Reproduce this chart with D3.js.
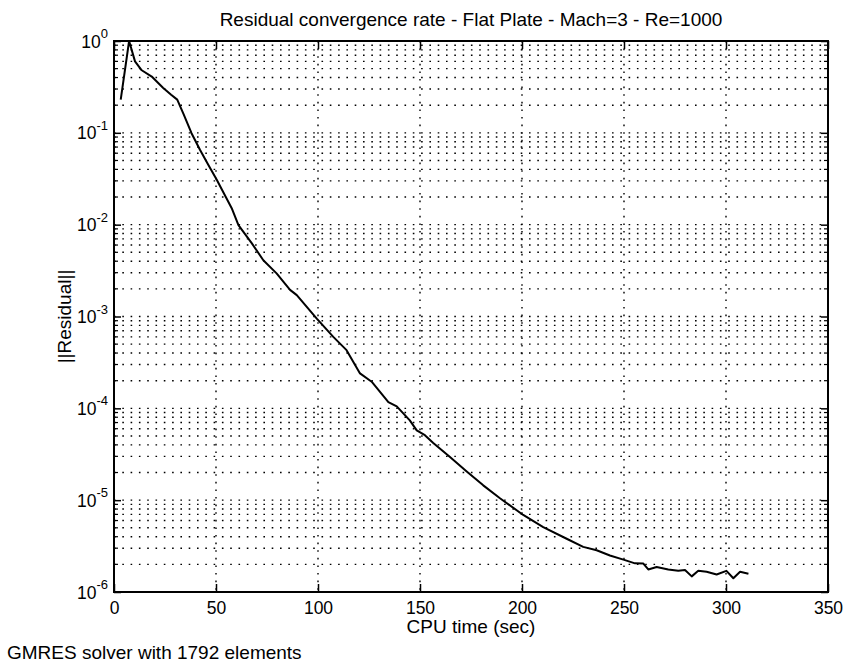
<!DOCTYPE html>
<html>
<head>
<meta charset="utf-8">
<script src="https://cdn.jsdelivr.net/npm/d3@7"></script>
<style>
  body { margin: 0; background: #fff; }
  text { font-family: "Liberation Sans", Arial, sans-serif; fill: #000; }
</style>
</head>
<body>
<div class="chart"></div>
<script>
// CPU time (sec) and residual norm
const cpuTime = [3.3, 7.4, 10.3, 13.6, 18.5, 24, 28, 31, 34, 38, 42.2, 46.2, 50.3, 57.7, 61,
    67.5, 73.2, 79.7, 86.3, 89.6, 99.4, 107.5, 114, 120.6, 126.3, 134.5, 138.6, 145, 148.4,
    152.4, 156.5, 164.7, 172.9, 181, 189.2, 200.6, 210.4, 221.9, 230, 236.6, 243.1, 249.7,
    255.4, 259.5, 261.9, 266, 271.7, 276.6, 279.9, 283.2, 286.4, 290.5, 295.4, 300.2,
    303.6, 306.9, 311];
const residual = [0.23, 1.0, 0.6, 0.48, 0.41, 0.31, 0.26, 0.23, 0.162, 0.099, 0.065, 0.045,
    0.031, 0.0151, 0.0099, 0.0063, 0.0041, 0.00295, 0.00195, 0.00171, 9.5e-4, 6.0e-4, 4.3e-4,
    2.4e-4, 1.95e-4, 1.17e-4, 1.05e-4, 7.4e-5, 5.75e-5, 5.1e-5, 4.2e-5, 2.95e-5, 2.05e-5,
    1.45e-5, 1.05e-5, 6.9e-6, 5.1e-6, 3.8e-6, 3.1e-6, 2.85e-6, 2.5e-6, 2.25e-6, 2.05e-6,
    2.04e-6, 1.76e-6, 1.87e-6, 1.76e-6, 1.70e-6, 1.74e-6, 1.48e-6, 1.70e-6, 1.66e-6,
    1.55e-6, 1.70e-6, 1.41e-6, 1.66e-6, 1.58e-6];

const xTicks = [0, 50, 100, 150, 200, 250, 300, 350];
const yExponents = [0, -1, -2, -3, -4, -5, -6];

const titleText = 'Residual convergence rate - Flat Plate - Mach=3 - Re=1000';
const xLabel = 'CPU time (sec)';
const yLabel = '||Residual||';
const footnote = 'GMRES solver with 1792 elements';

const W = 848, H = 665;
const plotL = 114, plotR = 828, plotT = 41, plotB = 592;

const svg = d3.select('.chart')
    .append('svg')
    .attr('width', W)
    .attr('height', H);

// scales
const xScale = d3.scaleLinear().domain([0, 350]).range([plotL, plotR]);
const yScale = d3.scaleLog().domain([1e-6, 1]).range([plotB, plotT]);

// minor + major positions for log grid
const majors = yExponents.map(e => Math.pow(10, e));
const minors = [];
yExponents.slice(1).forEach(e => {
    for (let m = 2; m <= 9; m++) minors.push(m * Math.pow(10, e));
});
const allY = majors.concat(minors);

// dotted grid
svg.append('g')
    .selectAll('line')
    .data(allY)
    .enter()
    .append('line')
    .attr('x1', plotL).attr('x2', plotR)
    .attr('y1', d => yScale(d)).attr('y2', d => yScale(d))
    .attr('stroke', '#000')
    .attr('stroke-width', 1.4)
    .attr('stroke-dasharray', '1.6,6.7');

svg.append('g')
    .selectAll('line')
    .data(xTicks.slice(1, -1))
    .enter()
    .append('line')
    .attr('x1', d => xScale(d)).attr('x2', d => xScale(d))
    .attr('y1', plotT).attr('y2', plotB)
    .attr('stroke', '#000')
    .attr('stroke-width', 1.4)
    .attr('stroke-dasharray', '1.6,6');

// minor ticks left / right (inward)
svg.append('g')
    .selectAll('line')
    .data(minors)
    .enter()
    .append('line')
    .attr('x1', plotL).attr('x2', plotL + 4)
    .attr('y1', d => yScale(d)).attr('y2', d => yScale(d))
    .attr('stroke', '#000').attr('stroke-width', 1.2);
svg.append('g')
    .selectAll('line')
    .data(minors)
    .enter()
    .append('line')
    .attr('x1', plotR).attr('x2', plotR - 4)
    .attr('y1', d => yScale(d)).attr('y2', d => yScale(d))
    .attr('stroke', '#000').attr('stroke-width', 1.2);

// x axis (bottom) with inward ticks
const xAxis = d3.axisBottom(xScale)
    .tickValues(xTicks)
    .tickSizeInner(-8)
    .tickSizeOuter(0)
    .tickFormat(d3.format('d'));

const gx = svg.append('g')
    .attr('transform', `translate(0, ${plotB})`)
    .call(xAxis);
gx.select('.domain').remove();
gx.selectAll('.tick line').attr('stroke-width', 1.5);
gx.selectAll('.tick text')
    .attr('y', 21.5)
    .attr('dy', 0)
    .style('font-family', '"Liberation Sans", Arial, sans-serif')
    .style('font-size', '17.5px');

// top ticks
svg.append('g')
    .attr('transform', `translate(0, ${plotT})`)
    .call(d3.axisTop(xScale).tickValues(xTicks).tickSizeInner(-8).tickSizeOuter(0).tickFormat(''))
    .call(g => g.select('.domain').remove())
    .selectAll('.tick line').attr('stroke-width', 1.5);

// y axis left with superscript labels
const gy = svg.append('g')
    .attr('transform', `translate(${plotL}, 0)`)
    .call(d3.axisLeft(yScale).tickValues(majors).tickSizeInner(-7).tickSizeOuter(0).tickFormat(''));
gy.select('.domain').remove();
gy.selectAll('.tick line').attr('stroke-width', 1.5);
gy.selectAll('.tick text').each(function(d) {
    const t = d3.select(this)
        .attr('x', -6)
        .attr('dy', '6px')
        .style('font-family', '"Liberation Sans", Arial, sans-serif')
        .style('font-size', '17.5px')
        .attr('text-anchor', 'end');
    t.append('tspan').text('10');
    t.append('tspan')
        .attr('dy', '-9.5px')
        .style('font-size', '13px')
        .text(Math.round(Math.log10(d)));
});

svg.append('g')
    .attr('transform', `translate(${plotR}, 0)`)
    .call(d3.axisRight(yScale).tickValues(majors).tickSizeInner(-7).tickSizeOuter(0).tickFormat(''))
    .call(g => g.select('.domain').remove())
    .selectAll('.tick line').attr('stroke-width', 1.5);

// frame
svg.append('rect')
    .attr('x', plotL).attr('y', plotT)
    .attr('width', plotR - plotL).attr('height', plotB - plotT)
    .attr('fill', 'none')
    .attr('stroke', '#000')
    .attr('stroke-width', 2);

// curve
const pts = cpuTime.map((t, i) => [t, residual[i]]);
const line = d3.line()
    .x(d => xScale(d[0]))
    .y(d => yScale(d[1]));

svg.append('path')
    .datum(pts)
    .attr('d', line)
    .attr('fill', 'none')
    .attr('stroke', '#000')
    .attr('stroke-width', 2)
    .attr('stroke-linejoin', 'round');

// texts
svg.append('text')
    .attr('x', (plotL + plotR) / 2)
    .attr('y', 26)
    .attr('text-anchor', 'middle')
    .style('font-size', '19px')
    .text(titleText);

svg.append('text')
    .attr('x', (plotL + plotR) / 2)
    .attr('y', 633)
    .attr('text-anchor', 'middle')
    .style('font-size', '19px')
    .text(xLabel);

svg.append('text')
    .attr('transform', `translate(71, ${(plotT + plotB) / 2}) rotate(-90)`)
    .attr('text-anchor', 'middle')
    .style('font-size', '19px')
    .text(yLabel);

svg.append('text')
    .attr('x', 7)
    .attr('y', 659)
    .style('font-size', '19px')
    .text(footnote);
</script>
</body>
</html>
